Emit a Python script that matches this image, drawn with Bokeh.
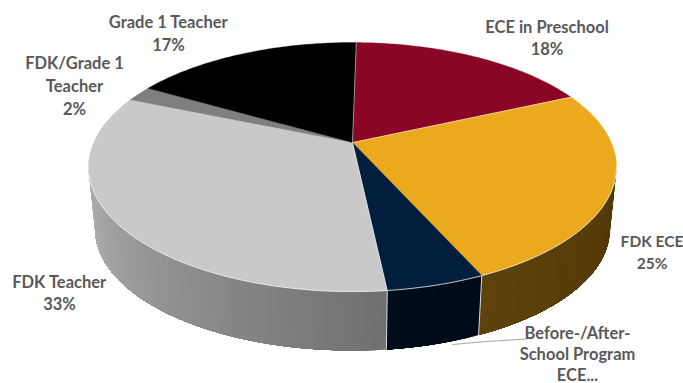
from bokeh.core.properties import value
from bokeh.embed import file_html
from bokeh.models import Range1d
from bokeh.plotting import figure
from bokeh.resources import INLINE
import numpy as np

categories = ["ECE in Preschool", "FDK ECE", "Before-/After-School Program ECE",
              "FDK Teacher", "FDK/Grade 1 Teacher", "Grade 1 Teacher"]
shares = [18, 25, 5, 33, 2, 17]
label_texts = [
    ["ECE in Preschool", "18%"],
    ["FDK ECE", "25%"],
    ["Before-/After-", "School Program", "ECE..."],
    ["FDK Teacher", "33%"],
    ["FDK/Grade 1", "Teacher", "2%"],
    ["Grade 1 Teacher", "17%"],
]

top_colors = ["#8a0626", "#eba91d", "#011e3c", "#c9c9c9", "#7f7f7f", "#000000"]
# wall colours at the two ends of each visible side wall, in order of increasing angle
wall_colors = {1: ("#503807", "#5e420b"), 2: ("#000a18", "#000d1c"), 3: ("#707070", "#b2b2b2")}
# x centre, y of first line, line spacing, font size for each label
label_layout = [
    (546.5, 26, 22, 16.5),
    (651.5, 240, 22, 15.5),
    (577, 332, 21, 16.5),
    (59, 281, 22, 16.5),
    (74, 62, 23, 16.5),
    (168, 21, 23, 16.5),
]

# Perspective disc: angle is clockwise from the top of the pie, in degrees
CX, APEX_Y, A, B, K = 352.0, 142.0, 258.8, 119.7, 0.197
FLOOR_Y, FLOOR_SCALE = 204.7, 0.975
FIRST_SLICE_ANGLE = 1.0
TANGENT = np.degrees(np.arccos(-K))


def project(deg, floor=False):
    t = np.radians(deg)
    u, v = np.sin(t), -np.cos(t)
    w = 1 - K * v
    x, y = A * u / w, B * v / w
    if floor:
        return CX + FLOOR_SCALE * x, FLOOR_Y + FLOOR_SCALE * y
    return CX + x, APEX_Y + y


def mix(c0, c1, f):
    a = [int(c0[i:i + 2], 16) for i in (1, 3, 5)]
    b = [int(c1[i:i + 2], 16) for i in (1, 3, 5)]
    return "#%02x%02x%02x" % tuple(round(p + (q - p) * f) for p, q in zip(a, b))


edges = np.cumsum([0] + shares) / sum(shares) * 360.0 + FIRST_SLICE_ANGLE

p = figure(width=683, height=383, output_backend="svg", toolbar_location=None,
           x_range=Range1d(0, 683), y_range=Range1d(383, 0),
           min_border=0, outline_line_color=None, background_fill_color="white",
           border_fill_color="white")
p.xaxis.visible = False
p.yaxis.visible = False
p.grid.visible = False

# Leader line for the small front slice
p.line([526, 486, 452], [338.5, 341, 344], line_color="#a6a6a6", line_width=1)

# Side wall: overlapping narrow strips carry a smooth shading ramp without seams
for idx, (c0, c1) in wall_colors.items():
    start = max(edges[idx], TANGENT)
    stop = min(edges[idx + 1], 360 - TANGENT)
    steps = max(int((stop - start) / 0.8), 1)
    cuts = np.linspace(start, stop, steps + 1)
    for n in range(steps):
        arc = np.linspace(cuts[n], stop, 3 + steps - n)
        xt, yt = project(arc)
        xb, yb = project(arc, True)
        c = mix(c0, c1, n / steps)
        p.patch(np.r_[xt, xb[::-1]], np.r_[yt, yb[::-1]], fill_color=c, line_color=None)

# Top face
for i, color in enumerate(top_colors):
    arc = np.linspace(edges[i], edges[i + 1], 90)
    xs, ys = project(arc)
    p.patch(np.r_[CX, xs], np.r_[APEX_Y, ys], fill_color=color, line_color=color, line_width=0.3)

# Pale radial separators on the top face
for idx in (0, 1, 3):
    x1, y1 = project(edges[idx])
    p.line([CX, x1], [APEX_Y, y1], line_color="#ffffff", line_width=1, line_alpha=0.5)

# Pale seams along the front rim and between the side walls
rim = np.linspace(TANGENT, 360 - TANGENT, 200)
rx, ry = project(rim)
p.line(rx, ry, line_color="#f2f2f2", line_width=1, line_alpha=0.8)
for idx in (2, 3):
    x0, y0 = project(edges[idx])
    x1, y1 = project(edges[idx], True)
    p.line([x0, x1], [y0, y1], line_color="#d9d9d9", line_width=1)

# Category and percentage labels, one text per line
for lines, (x, y, gap, size) in zip(label_texts, label_layout):
    for n, line in enumerate(lines):
        p.text([x], [y + n * gap], text=[line], text_font=value("Lato"),
               text_font_style="bold", text_font_size=f"{size}px", text_color="#595959",
               text_align="center", text_baseline="middle")

open("out.html", "w").write(file_html(p, INLINE))
